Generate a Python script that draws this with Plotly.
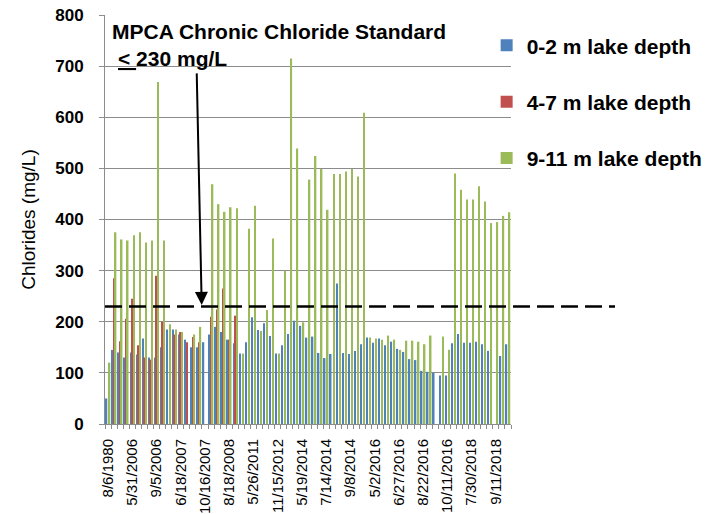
import plotly.graph_objects as go

# ---------------- data ----------------
tick_labels = ["8/6/1980", "5/31/2006", "9/5/2006", "6/18/2007", "10/16/2007",
               "8/18/2008", "5/26/2011", "11/15/2012", "5/19/2014", "7/14/2014",
               "9/8/2014", "5/2/2016", "6/27/2016", "8/22/2016", "10/11/2016",
               "7/30/2018", "9/11/2018"]
label_every = 4

depth_0_2 = [50, 145, 140, 130, 140, 136, 167, 130, 130, 150,
             185, 185, 175, 165, 150, 150, 160, 175, 190, 180,
             165, 158, 138, 160, 209, 184, 197, 172, 138, 154,
             176, 202, 192, 169, 171, 139, 129, 137, 275, 139,
             137, 143, 156, 169, 159, 167, 154, 161, 147, 141,
             127, 125, 104, 102, 100, 95, 95, 158, 176, 159,
             159, 161, 156, 143, None, 133, 156]
depth_4_7 = [None, 285, 162, 206, 245, 154, 130, 126, 290, 200,
             None, 175, 180, 160, 170, 160, None, 210, 224, 265,
             165, 212] + [None] * 45
depth_9_11 = [120, 375, 361, 359, 369, 375, 355, 359, 669, 359,
              195, 185, 180, None, 175, 190, None, 469, 430, 415,
              424, 422, 138, 382, 427, 182, 223, 363, 138, 300,
              715, 539, 199, 478, 524, 499, 419, 489, 489, 494,
              499, 484, 609, 169, 167, 165, 173, 165, 145, 163,
              163, 161, 156, 173, None, 171, 145, 490, 458, 439,
              439, 465, 435, 393, 395, 407, 414]

series_names = ["0-2 m lake depth", "4-7 m lake depth", "9-11 m lake depth"]
series_colors = ["#4F81BD", "#C0504D", "#9BBB59"]
STANDARD = 230  # mg/L

n = len(depth_0_2)
x = list(range(n))

FONT = "Liberation Sans, Arial, sans-serif"

# plot area in pixels (for placing annotations)
L, R, T, B = 105, 511, 15.3, 424.3
def px_x(p):
    return (p - L) / (R - L)
def px_y(p):
    return 1 - (p - T) / (B - T)

fig = go.Figure()
for i, (vals, name, col) in enumerate(zip([depth_0_2, depth_4_7, depth_9_11],
                                          series_names, series_colors)):
    fig.add_trace(go.Bar(x=x, y=vals, name=name, marker_color=col,
                         marker_line_width=0, legendgroup=str(i)))

fig.update_layout(
    width=719, height=514,
    margin=dict(l=L, r=719 - R, t=T, b=514 - B, autoexpand=False),
    plot_bgcolor="white", paper_bgcolor="white",
    barmode="group", bargap=0.25, bargroupgap=0,
    font=dict(family=FONT, color="black"),
    showlegend=True,
    legend=dict(x=0.94, y=px_y(25.5), xanchor="left", yanchor="top",
                font=dict(family=FONT, size=21, color="black", weight="bold"),
                tracegroupgap=26, bgcolor="rgba(0,0,0,0)"),
)

fig.update_xaxes(
    automargin=False,
    range=[-0.5, n - 0.5],
    tickmode="array",
    tickvals=x[::label_every][:len(tick_labels)],
    ticktext=tick_labels,
    tickangle=-90,
    tickfont=dict(family=FONT, size=15, color="black"),
    ticks="", ticklabelstandoff=8,
    showgrid=False, zeroline=False,
    showline=True, linecolor="#8c8c8c", linewidth=1,
    minor=dict(tickmode="array", tickvals=[v - 0.5 for v in range(n + 1)],
               ticks="outside", ticklen=4, tickcolor="#8c8c8c", showgrid=False),
)

fig.update_yaxes(
    automargin=False,
    range=[0, 800], dtick=100, tick0=0,
    tickfont=dict(family=FONT, size=17, color="black", weight="bold"),
    ticks="outside", ticklen=5, tickcolor="#8c8c8c", ticklabelstandoff=12,
    showgrid=True, gridcolor="#8c8c8c", gridwidth=1,
    zeroline=False, showline=True, linecolor="#8c8c8c", linewidth=1,
    title=dict(text="Chlorides (mg/L)", standoff=14,
               font=dict(family=FONT, size=19, color="black")),
)

# dashed standard line, extending past the plot into the legend area
fig.add_shape(type="line", xref="paper", yref="y",
              x0=0, x1=px_x(615), y0=STANDARD, y1=STANDARD,
              line=dict(color="black", width=2.5, dash="17px,7px"))

# annotation text
fig.add_annotation(xref="paper", yref="paper", x=px_x(110), y=px_y(32),
                   xanchor="left", yanchor="middle", showarrow=False,
                   text="<b>MPCA Chronic Chloride Standard</b>",
                   font=dict(family=FONT, size=21, color="black"))
fig.add_annotation(xref="paper", yref="paper", x=px_x(116), y=px_y(59),
                   xanchor="left", yanchor="middle", showarrow=False,
                   text="<b><u>&lt; </u>230 mg/L</b>",
                   font=dict(family=FONT, size=21, color="black"))
# arrow pointing at the standard line
fig.add_annotation(xref="paper", yref="y", x=px_x(201.7), y=STANDARD + 3,
                   ax=-5, ay=-233, axref="pixel", ayref="pixel",
                   text="", showarrow=True, arrowhead=2, arrowsize=1.3,
                   arrowwidth=2, arrowcolor="black", standoff=0)

fig.write_html("out.html", config={"displayModeBar": False},
               post_script="document.body.style.margin='0px';")
